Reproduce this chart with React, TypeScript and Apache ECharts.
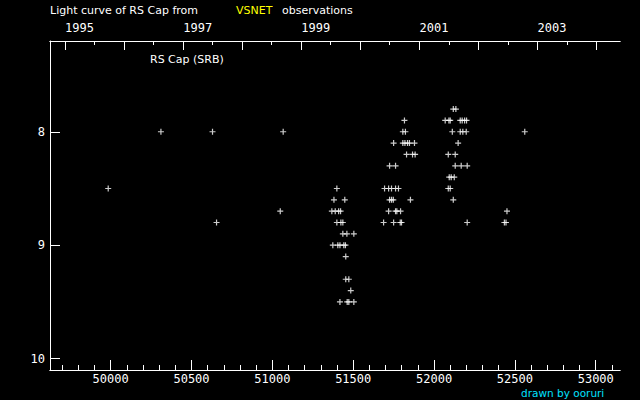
import { useEffect, useRef } from "react";
import * as echarts from "echarts";

// Observations: JD - 2400000 and visual magnitude
const obsJD = [
  49985, 50311, 50630, 50655, 51049, 51067,
  51399,
  51381, 51448,
  51368, 51389, 51410, 51422,
  51399, 51424, 51436,
  51436, 51461, 51504,
  51374, 51405, 51418, 51442, 51452,
  51454,
  51454, 51473,
  51485,
  51418, 51463, 51473, 51504,
  51817,
  51807, 51823,
  51750, 51807, 51820, 51836, 51848, 51879,
  51830, 51867, 51883,
  51725, 51762,
  51694, 51719, 51737, 51762, 51780,
  51725, 51737, 51748, 51854,
  51719, 51762, 51770, 51793,
  51688, 51750, 51791, 51799,
  52119, 52135,
  52069, 52092, 52100, 52162, 52174, 52189, 52201,
  52113, 52162, 52178, 52199,
  52149,
  52088, 52131,
  52131, 52168, 52205,
  52094, 52106, 52125,
  52088, 52100,
  52119,
  52205,
  52561, 52451, 52435, 52445,
];
const obsMag = [
  8.5, 8.0, 8.0, 8.8, 8.7, 8.0,
  8.5,
  8.6, 8.6,
  8.7, 8.7, 8.7, 8.7,
  8.8, 8.8, 8.8,
  8.9, 8.9, 8.9,
  9.0, 9.0, 9.0, 9.0, 9.0,
  9.1,
  9.3, 9.3,
  9.4,
  9.5, 9.5, 9.5, 9.5,
  7.9,
  8.0, 8.0,
  8.1, 8.1, 8.1, 8.1, 8.1, 8.1,
  8.2, 8.2, 8.2,
  8.3, 8.3,
  8.5, 8.5, 8.5, 8.5, 8.5,
  8.6, 8.6, 8.6, 8.6,
  8.7, 8.7, 8.7, 8.7,
  8.8, 8.8, 8.8, 8.8,
  7.8, 7.8,
  7.9, 7.9, 7.9, 7.9, 7.9, 7.9, 7.9,
  8.0, 8.0, 8.0, 8.0,
  8.1,
  8.2, 8.2,
  8.3, 8.3, 8.3,
  8.4, 8.4, 8.4,
  8.5, 8.5,
  8.6,
  8.8,
  8.0, 8.7, 8.8, 8.8,
];

const bottomMajorTicks = [50000, 50500, 51000, 51500, 52000, 52500, 53000];
const bottomMinorTicks = [
  49700, 49800, 49900, 50100, 50200, 50300, 50400, 50600, 50700, 50800, 50900,
  51100, 51200, 51300, 51400, 51600, 51700, 51800, 51900, 52100, 52200, 52300,
  52400, 52600, 52700, 52800, 52900, 53100,
];
const yearStartJD = [49718.5, 50083.5, 50449.5, 50814.5, 51179.5, 51544.5, 51910.5, 52275.5, 52640.5, 53005.5];
const yearNames = ["1995", "1996", "1997", "1998", "1999", "2000", "2001", "2002", "2003", "2004"];
const labelledYearJD = [49718.5, 50449.5, 51179.5, 51910.5, 52640.5];
const halfYearJD = [49900, 50265, 50631, 50996, 51361, 51726, 52092, 52457, 52822];
const magTicks = [8, 9, 10];

const X_MIN = 49625;
const X_MAX = 53150;
const WHITE = "#ffffff";
const MONO = "DejaVu Sans Mono";
const SANS = "DejaVu Sans";

function baseX(extra: any) {
  return {
    type: "value",
    min: X_MIN,
    max: X_MAX,
    splitLine: { show: false },
    axisLine: { show: true, onZero: false, lineStyle: { color: WHITE, width: 1 } },
    ...extra,
  };
}

export default function App() {
  const ref = useRef<HTMLDivElement>(null);
  useEffect(() => {
    if (!ref.current) return;
    const chart = echarts.init(ref.current, null, { renderer: "svg" });
    const data = obsJD.map((jd, i) => [jd, obsMag[i]]);
    chart.setOption({
      animation: false,
      backgroundColor: "#000000",
      grid: { left: 50, right: 20, top: 41, bottom: 30, containLabel: false },
      xAxis: [
        baseX({
          position: "bottom",
          axisTick: { show: true, inside: true, length: 5, customValues: bottomMinorTicks, lineStyle: { color: WHITE } },
          axisLabel: { show: false },
        }),
        baseX({
          position: "bottom",
          axisTick: { show: true, inside: true, length: 10, customValues: bottomMajorTicks, lineStyle: { color: WHITE } },
          axisLabel: {
            show: true,
            customValues: bottomMajorTicks,
            color: WHITE,
            fontFamily: MONO,
            fontSize: 12,
            margin: 3,
            formatter: (v: number) => String(v),
          },
        }),
        baseX({
          position: "top",
          axisTick: { show: true, inside: true, length: 4, customValues: halfYearJD, lineStyle: { color: WHITE } },
          axisLabel: { show: false },
        }),
        baseX({
          position: "top",
          axisTick: { show: true, inside: true, length: 9, customValues: yearStartJD, lineStyle: { color: WHITE } },
          axisLabel: {
            show: true,
            customValues: labelledYearJD,
            color: WHITE,
            fontFamily: MONO,
            fontSize: 12,
            margin: 7,
            align: "left",
            formatter: (v: number) => {
              const i = yearStartJD.findIndex((j) => Math.abs(j - v) < 1);
              return i >= 0 ? yearNames[i] : "";
            },
          },
        }),
      ],
      yAxis: {
        type: "value",
        inverse: true,
        min: 7.2,
        max: 10.1,
        splitLine: { show: false },
        axisLine: { show: true, onZero: false, lineStyle: { color: WHITE, width: 1 } },
        axisTick: { show: true, inside: true, length: 10, customValues: magTicks, lineStyle: { color: WHITE } },
        axisLabel: {
          show: true,
          customValues: magTicks,
          color: WHITE,
          fontFamily: MONO,
          fontSize: 12,
          margin: 5,
          formatter: (v: number) => String(v),
        },
      },
      graphic: [
        { type: "text", left: 50, top: 5, style: { text: "Light curve of RS Cap from", fill: WHITE, font: `11px '${SANS}'` } },
        { type: "text", left: 236, top: 5, style: { text: "VSNET", fill: "#ffff00", font: `11px '${SANS}'` } },
        { type: "text", left: 282, top: 5, style: { text: "observations", fill: WHITE, font: `11px '${SANS}'` } },
        { type: "text", left: 150, top: 54, style: { text: "RS Cap (SRB)", fill: WHITE, font: `11px '${SANS}'` } },
        { type: "text", left: 521, top: 387, style: { text: "drawn by ooruri", fill: "#00e0ff", font: `10.5px '${SANS}'` } },
      ],
      series: [
        {
          type: "scatter",
          xAxisIndex: 1,
          yAxisIndex: 0,
          data,
          symbol: "path://M2 0H3V2H5V3H3V5H2V3H0V2H2Z",
          symbolSize: 6,
          itemStyle: { color: WHITE },
        },
      ],
    });
    return () => chart.dispose();
  }, []);
  return <div ref={ref} style={{ position: "fixed", left: 0, top: 0, width: 640, height: 400 }} />;
}
